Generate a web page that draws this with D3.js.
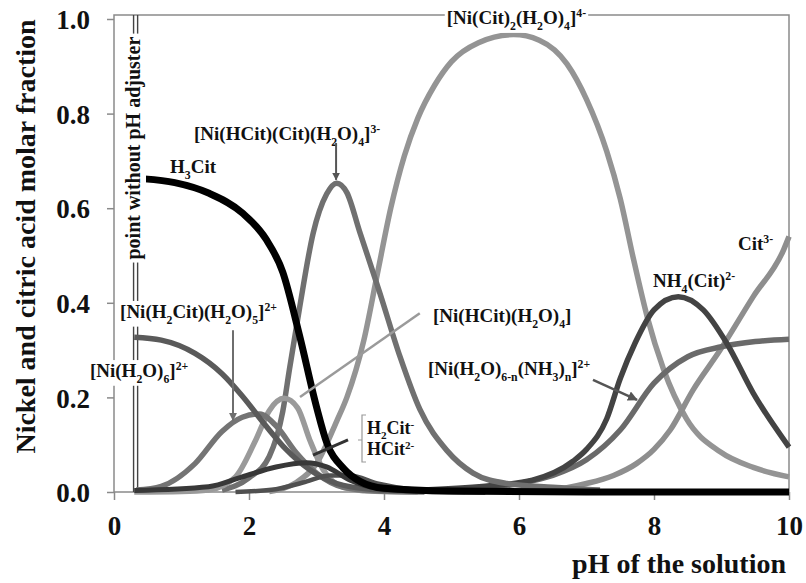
<!DOCTYPE html>
<html><head><meta charset="utf-8">
<script src="https://cdn.jsdelivr.net/npm/d3@7"></script>
<style>
body{margin:0;background:#fff}
text{font-family:"Liberation Serif","Times New Roman",serif;font-weight:bold;fill:#111}
</style>
</head><body><svg id="c" width="806" height="583"></svg>
<script>
// ---- data (pH, molar fraction) ----
const xTicks=[0,2,4,6,8,10];
const yTicks=[0,0.2,0.4,0.6,0.8,1.0];

const phH3Cit=[0.45,0.9,1.4,1.9,2.25,2.5,2.75,3.0,3.15,3.4,3.65,4.0,5.0,7.0,10];
const vH3Cit =[0.662,0.654,0.632,0.59,0.535,0.465,0.33,0.18,0.105,0.05,0.022,0.008,0.002,0.0,0.0];

const phNiAq=[0.3,0.7,1.2,1.6,1.9,2.25,2.55,2.9,3.3,3.8,4.5,5.5];
const vNiAq =[0.327,0.321,0.293,0.25,0.203,0.14,0.09,0.047,0.018,0.006,0.002,0.0];

const phNiH2Cit=[0.33,0.7,1.2,1.6,1.9,2.16,2.4,2.7,3.0,3.4,3.9,4.6];
const vNiH2Cit =[0.004,0.012,0.06,0.128,0.158,0.165,0.14,0.083,0.04,0.01,0.002,0.0];

const phNiHCit=[0.3,1.0,1.4,1.8,2.1,2.3,2.52,2.72,2.9,3.1,3.4,3.8,4.5];
const vNiHCit =[0.0,0.001,0.004,0.032,0.11,0.172,0.198,0.178,0.11,0.047,0.01,0.002,0.0];

const phH2Cit=[0.3,1.4,1.9,2.4,2.85,3.15,3.5,3.9,4.5,5.5];
const vH2Cit =[0.003,0.011,0.032,0.053,0.062,0.053,0.025,0.008,0.002,0.0];

const phHCit=[1.8,2.4,2.8,3.2,3.5,3.9,4.4,5.2];
const vHCit =[0.0,0.006,0.02,0.035,0.035,0.018,0.006,0.0];

const phNiHCitCit=[1.6,2.0,2.3,2.5,2.6,2.75,2.95,3.15,3.3,3.45,3.64,3.94,4.24,4.53,4.93,5.32,5.82,6.5,7.2];
const vNiHCitCit =[0.004,0.03,0.075,0.17,0.26,0.39,0.547,0.63,0.653,0.633,0.55,0.42,0.285,0.175,0.088,0.04,0.018,0.01,0.004];

const phNiCit2=[2.3,2.7,3.0,3.3,3.45,3.7,3.9,4.1,4.3,4.5,4.75,5.0,5.4,5.92,6.3,6.71,7.0,7.3,7.5,7.7,7.9,8.14,8.48,8.98,9.47,10];
const vNiCit2 =[0.001,0.02,0.06,0.15,0.2,0.32,0.46,0.6,0.71,0.79,0.86,0.91,0.95,0.967,0.955,0.905,0.83,0.72,0.62,0.49,0.37,0.26,0.155,0.085,0.052,0.032];

const phNH4Cit=[4.5,5.5,6.2,6.8,7.0,7.3,7.5,7.72,8.0,8.36,8.73,9.08,9.47,10];
const vNH4Cit =[0.004,0.012,0.025,0.065,0.09,0.155,0.24,0.315,0.385,0.413,0.385,0.314,0.209,0.095];

const phNiNH3=[4.5,5.5,6.0,6.5,7.0,7.5,8.0,8.5,9.0,9.5,10];
const vNiNH3 =[0.002,0.008,0.018,0.035,0.068,0.131,0.23,0.286,0.307,0.318,0.323];

const phCit3=[5.5,6.5,7.0,7.4,7.74,8.0,8.24,8.58,8.98,9.47,9.92,10];
const vCit3 =[0.001,0.005,0.018,0.035,0.06,0.09,0.131,0.216,0.3,0.413,0.512,0.54];

const adjusterPH=[0.29,0.35];

// ---- build ----
const series=[
 {ph:phNiCit2,v:vNiCit2,c:"#949494",w:5.5},
 {ph:phCit3,v:vCit3,c:"#8e8e8e",w:5.5},
 {ph:phNiNH3,v:vNiNH3,c:"#6a6a6a",w:5.5},
 {ph:phNH4Cit,v:vNH4Cit,c:"#434343",w:5.5},
 {ph:phNiHCitCit,v:vNiHCitCit,c:"#707070",w:5.5},
 {ph:phNiHCit,v:vNiHCit,c:"#9a9a9a",w:5.5},
 {ph:phNiH2Cit,v:vNiH2Cit,c:"#747474",w:5.5},
 {ph:phNiAq,v:vNiAq,c:"#5a5a5a",w:5.5},
 {ph:phHCit,v:vHCit,c:"#505050",w:4.5},
 {ph:phH2Cit,v:vH2Cit,c:"#383838",w:5},
 {ph:phH3Cit,v:vH3Cit,c:"#000000",w:7}
];

const svg=d3.select("#c");
const x=d3.scaleLinear().domain([0,10]).range([114,789]);
const y=d3.scaleLinear().domain([0,1]).range([492,19]);
const axisCol="#8a8a8a";

// frame
svg.append("rect").attr("x",x(0)).attr("y",15).attr("width",x(10)-x(0)).attr("height",y(0)-15)
 .attr("fill","none").attr("stroke",axisCol).attr("stroke-width",1.5);

// axes
const gy=svg.append("g").attr("transform",`translate(${x(0)},0)`)
 .call(d3.axisLeft(y).tickValues(yTicks).tickFormat(d3.format(".1f")).tickSize(7).tickPadding(17));
gy.select(".domain").remove();
gy.selectAll(".tick line").attr("stroke",axisCol).attr("stroke-width",1.5);
gy.selectAll(".tick text").attr("dy","0.36em").style("font-size","27px").style("font-family",'"Liberation Serif",serif').style("font-weight","bold").attr("fill","#111");

const gx=svg.append("g").attr("transform",`translate(0,${y(0)})`)
 .call(d3.axisBottom(x).tickValues(xTicks).tickFormat(d3.format("d")).tickSize(8).tickPadding(16));
gx.select(".domain").remove();
gx.selectAll(".tick line").attr("stroke",axisCol).attr("stroke-width",1.5);
gx.selectAll(".tick text").style("font-size","27px").style("font-family",'"Liberation Serif",serif').style("font-weight","bold").attr("fill","#111");

// axis titles
svg.append("text").attr("transform",`translate(35,${(455+18)/2}) rotate(-90)`).attr("text-anchor","middle")
 .style("font-size","28px").text("Nickel and citric acid molar fraction");
svg.append("text").attr("x",786).attr("y",573).attr("text-anchor","end")
 .style("font-size","28px").text("pH of the solution");

// adjuster double line
adjusterPH.forEach(p=>{
 svg.append("line").attr("x1",x(p)).attr("x2",x(p)).attr("y1",15).attr("y2",y(0))
  .attr("stroke","#444").attr("stroke-width",1.4);
});

// curves
const line=d3.line().x((d)=>x(d[0])).y(d=>y(d[1])).curve(d3.curveMonotoneX);
series.forEach(s=>{
 svg.append("path").datum(s.ph.map((p,i)=>[p,s.v[i]])).attr("d",line)
  .attr("fill","none").attr("stroke",s.c).attr("stroke-width",s.w).attr("stroke-linejoin","round");
});

// rich text helpers
function parse(str){const out=[];let i=0,buf="";while(i<str.length){const c=str[i];
 if(c==="_"||c==="^"){if(buf){out.push([buf,null]);buf="";}let j=i+1,s;
  if(str[j]==="{"){const e=str.indexOf("}",j);s=str.slice(j+1,e);i=e+1;}else{s=str[j];i=j+1;}
  out.push([s,c==="_"?"sub":"sup"]);}else{buf+=c;i++;}}
 if(buf)out.push([buf,null]);return out;}
function rich(px,py,str,size,bg){
 const g=svg.append("g");
 const t=g.append("text").attr("x",px).attr("y",py).style("font-size",size+"px");
 let shift=0;
 parse(str).forEach(([s,k])=>{
  const tgt=k==="sub"?size*0.3:k==="sup"?-size*0.36:0;
  const sp=t.append("tspan").text(s).attr("dy",tgt-shift);shift=tgt;
  if(k)sp.style("font-size",(size*0.62)+"px");
 });
 if(bg){const b=t.node().getBBox();
  g.insert("rect","text").attr("x",b.x-2).attr("y",b.y).attr("width",b.width+4).attr("height",b.height).attr("fill","#fff");}
 return t;
}
function marker(id,col){
 svg.append("defs").append("marker").attr("id",id).attr("viewBox","0 0 10 10").attr("refX",9).attr("refY",5)
  .attr("markerWidth",4).attr("markerHeight",4).attr("orient","auto")
  .append("path").attr("d","M0,0L10,5L0,10z").attr("fill",col);
}
marker("mA","#555");marker("mB","#6e6e6e");
function arrow(p1,v1,p2,v2,col,w,m){
 const l=svg.append("line").attr("x1",x(p1)).attr("y1",y(v1)).attr("x2",x(p2)).attr("y2",y(v2))
  .attr("stroke",col).attr("stroke-width",w);
 if(m)l.attr("marker-end",`url(#${m})`);
}

// adjuster text
const gt=svg.append("g");
const at=gt.append("text").attr("transform",`translate(140,${y(0.727)}) rotate(-90)`).attr("text-anchor","middle")
 .style("font-size","20px").text("point without pH adjuster");
{const b=at.node().getBoundingClientRect();
 gt.insert("rect","text").attr("x",b.left-1).attr("y",b.top-3).attr("width",b.width+2).attr("height",b.height+6).attr("fill","#fff");}

// labels & annotations
rich(x(0.83),y(0.674),"H_3Cit",19,false);
rich(x(1.185),y(0.744),"[Ni(HCit)(Cit)(H_2O)_4]^{3-}",19,false);
arrow(3.29,0.738,3.29,0.66,"#555",2,"mA");
rich(x(4.93),y(0.989),"[Ni(Cit)_2(H_2O)_4]^{4-}",19,true);
rich(x(0.09),y(0.368),"[Ni(H_2Cit)(H_2O)_5]^{2+}",19,true);
arrow(1.763,0.342,1.763,0.152,"#6e6e6e",2,"mB");
rich(x(-0.356),y(0.243),"[Ni(H_2O)_6]^{2+}",19,true);
rich(x(4.726),y(0.359),"[Ni(HCit)(H_2O)_4]",19,false);
arrow(4.53,0.378,2.756,0.201,"#9a9a9a",2.5,null);
rich(x(4.65),y(0.247),"[Ni(H_2O)_{6-n}(NH_3)_n]^{2+}",19,false);
arrow(7.096,0.237,7.748,0.195,"#555",2.5,"mA");
rich(x(3.748),y(0.1225),"H_2Cit^-",18,false);
rich(x(3.748),y(0.078),"HCit^{2-}",18,false);
svg.append("path").attr("d",`M${x(3.674)+4},415 L${x(3.674)},415 L${x(3.674)},462 L${x(3.674)+4},462 M${x(3.674)},440 L${x(3.674)-4},440`)
 .attr("fill","none").attr("stroke","#999").attr("stroke-width",1.2);
arrow(3.467,0.11,2.948,0.078,"#333",3,null);
rich(x(7.985),y(0.433),"NH_4(Cit)^{2-}",19,false);
rich(x(9.244),y(0.512),"Cit^{3-}",19,false);
</script></body></html>
